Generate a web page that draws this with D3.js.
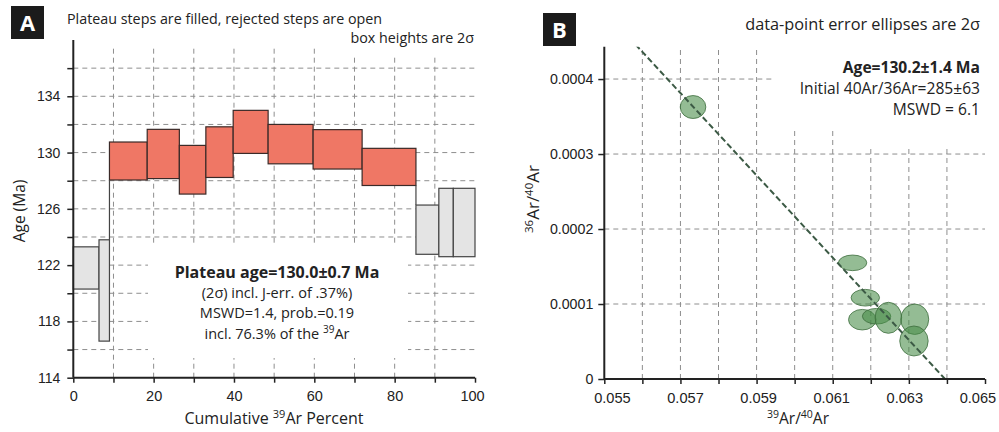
<!DOCTYPE html>
<html>
<head>
<meta charset="utf-8">
<script src="https://cdn.jsdelivr.net/npm/d3@7"></script>
<style>
  html, body { margin: 0; padding: 0; background: #fff; }
  svg { display: block; }
  .tick text { font-family: "Liberation Sans", Arial, sans-serif; fill: #222; }
  .lbl { font-family: "Open Sans", "Noto Sans", sans-serif; fill: #222; }
</style>
</head>
<body>
<svg id="chart" width="999" height="432"></svg>
<script>
// ---------- Panel A data: step-heating spectrum ----------
const stepStart = [0, 6.4, 9.0, 18.4, 26.4, 33.0, 39.8, 48.5, 59.7, 71.9, 85.3, 91.0, 94.6];
const stepEnd   = [6.4, 9.0, 18.4, 26.4, 33.0, 39.8, 48.5, 59.7, 71.9, 85.3, 91.0, 94.6, 100];
const stepAge   = [121.8, 120.2, 129.4, 129.9, 128.78, 130.03, 131.47, 130.6, 130.23, 128.98, 124.52, 125.03, 125.03];
const stepErr2s = [1.5, 3.6, 1.35, 1.75, 1.73, 1.8, 1.53, 1.4, 1.4, 1.32, 1.75, 2.43, 2.43];
const inPlateau = [false, false, true, true, true, true, true, true, true, true, false, false, false];
const ageTicks  = [114, 116, 118, 120, 122, 124, 126, 128, 130, 132, 134, 136];
const ageLabels = [114, 118, 122, 126, 130, 134];
const pctTicks  = [0, 10, 20, 30, 40, 50, 60, 70, 80, 90, 100];
const pctLabels = [0, 20, 40, 60, 80, 100];

// ---------- Panel B data: inverse isochron ----------
const ptX  = [0.057331, 0.061522, 0.061856, 0.061777, 0.062152, 0.062462, 0.063155, 0.063134];
const ptY  = [0.0003627, 0.0001549, 0.0001084, 0.0000791, 0.0000837, 0.0000816, 0.0000797, 0.0000507];
const ptSX = [0.000336, 0.000373, 0.000373, 0.000362, 0.000373, 0.000349, 0.000367, 0.000373];
const ptSY = [0.0000153, 0.0000104, 0.0000111, 0.0000137, 0.0000104, 0.0000207, 0.0000203, 0.0000200];
const isoXIntercept = 0.06395;     // 39Ar/40Ar intercept
const isoInitialRatio = 285;       // 40Ar/36Ar initial
const xTicksB = [0.055, 0.056, 0.057, 0.058, 0.059, 0.060, 0.061, 0.062, 0.063, 0.064, 0.065];
const xLabelsB = [0.055, 0.057, 0.059, 0.061, 0.063, 0.065];
const yTicksB = [0, 0.0001, 0.0002, 0.0003, 0.0004];

const svg = d3.select("#chart");
const gridColor = "#8e8e8e";
const axisColor = "#222";

function labelBox(x, y, letter) {
  svg.append("rect").attr("x", x).attr("y", y).attr("width", 33).attr("height", 33).attr("fill", "#1b1b1b");
  svg.append("text").attr("class", "lbl").attr("x", x + 16.5).attr("y", y + 25)
    .attr("text-anchor", "middle").style("font-size", "22px").style("font-weight", "700")
    .style("fill", "#fff").text(letter);
}

function styleAxis(g, fs) {
  g.select(".domain").attr("stroke", axisColor).attr("stroke-width", 2);
  g.selectAll(".tick line").attr("stroke", axisColor).attr("stroke-width", 1.5);
  g.selectAll(".tick text").style("font-size", fs + "px");
}

// ================= PANEL A =================
const xA = d3.scaleLinear().domain([0, 100]).range([73.3, 475]);
const yA = d3.scaleLinear().domain([114, 138]).range([377.7, 40]);

const gA = svg.append("g");
gA.selectAll(".hg").data(ageTicks.filter(d => d > 114)).join("line")
  .attr("x1", xA(0)).attr("x2", xA(100)).attr("y1", d => yA(d)).attr("y2", d => yA(d))
  .attr("stroke", gridColor).attr("stroke-dasharray", "5,4").attr("stroke-width", 1);
gA.selectAll(".vg").data(pctTicks.filter(d => d > 0 && d < 100)).join("line")
  .attr("x1", d => xA(d)).attr("x2", d => xA(d)).attr("y1", yA(114)).attr("y2", 45)
  .attr("stroke", gridColor).attr("stroke-dasharray", "5,4").attr("stroke-width", 1);
// white backgrounds behind annotation text
gA.append("rect").attr("x", 330).attr("y", 28).attr("width", 150).attr("height", 29).attr("fill", "#fff");
gA.append("rect").attr("x", 148).attr("y", 246).attr("width", 260).attr("height", 112).attr("fill", "#fff");

const steps = stepStart.map((s, i) => ({ s, e: stepEnd[i], lo: stepAge[i] - stepErr2s[i], hi: stepAge[i] + stepErr2s[i], p: inPlateau[i] }));
gA.selectAll(".step").data(steps).join("rect")
  .attr("x", d => xA(d.s)).attr("width", d => xA(d.e) - xA(d.s))
  .attr("y", d => yA(d.hi)).attr("height", d => yA(d.lo) - yA(d.hi))
  .attr("fill", d => d.p ? "#ef7765" : "#e4e4e4")
  .attr("stroke", d => d.p ? "#3a2a28" : "#444").attr("stroke-width", 1.2);
// connecting verticals between non-overlapping adjacent steps
for (let i = 1; i < steps.length; i++) {
  const a = steps[i - 1], b = steps[i];
  if (a.hi < b.lo || b.hi < a.lo) {
    const y1 = a.hi < b.lo ? a.hi : b.hi;
    const y2 = a.hi < b.lo ? b.lo : a.lo;
    gA.append("line").attr("x1", xA(b.s)).attr("x2", xA(b.s))
      .attr("y1", yA(y1)).attr("y2", yA(y2)).attr("stroke", "#444").attr("stroke-width", 1.2);
  }
}

const axA_y = gA.append("g").attr("transform", `translate(${xA(0)},0)`)
  .call(d3.axisLeft(yA).tickValues(ageTicks).tickSize(6).tickPadding(7)
    .tickFormat(d => ageLabels.includes(d) ? d : ""));
axA_y.select(".domain").attr("d", `M0,${yA(138)}V${yA(114)}`);
styleAxis(axA_y, 14);
const axA_x = gA.append("g").attr("transform", `translate(0,${yA(114)})`)
  .call(d3.axisBottom(xA).tickValues(pctTicks).tickSize(5).tickPadding(8)
    .tickFormat(d => pctLabels.includes(d) ? d : ""));
axA_x.select(".domain").attr("d", `M${xA(0)},0H${xA(100)}`);
styleAxis(axA_x, 14.5);
axA_x.selectAll(".tick text").attr("x", d => d === 100 ? -3 : 0);

labelBox(11, 6, "A");
gA.append("text").attr("class", "lbl").attr("x", 67).attr("y", 24).style("font-size", "14.3px")
  .text("Plateau steps are filled, rejected steps are open");
gA.append("text").attr("class", "lbl").attr("x", 474).attr("y", 43).attr("text-anchor", "end").style("font-size", "14.3px")
  .text("box heights are 2σ");
const pcx = 277;
gA.append("text").attr("class", "lbl").attr("x", pcx).attr("y", 278).attr("text-anchor", "middle")
  .style("font-size", "16px").style("font-weight", "700").text("Plateau age=130.0±0.7 Ma");
gA.append("text").attr("class", "lbl").attr("x", pcx).attr("y", 298).attr("text-anchor", "middle")
  .style("font-size", "14.5px").text("(2σ) incl. J-err. of .37%)");
gA.append("text").attr("class", "lbl").attr("x", pcx).attr("y", 318).attr("text-anchor", "middle")
  .style("font-size", "14.5px").text("MSWD=1.4, prob.=0.19");
const t4 = gA.append("text").attr("class", "lbl").attr("x", pcx).attr("y", 339).attr("text-anchor", "middle")
  .style("font-size", "14.5px");
t4.append("tspan").text("incl. 76.3% of the ");
t4.append("tspan").attr("dy", -6).style("font-size", "10px").text("39");
t4.append("tspan").attr("dy", 6).text("Ar");

const xt = gA.append("text").attr("class", "lbl").attr("x", 274).attr("y", 424).attr("text-anchor", "middle")
  .style("font-size", "16px");
xt.append("tspan").text("Cumulative ");
xt.append("tspan").attr("dy", -6).style("font-size", "11px").text("39");
xt.append("tspan").attr("dy", 6).text("Ar Percent");
gA.append("text").attr("class", "lbl").attr("transform", "translate(25,211) rotate(-90)")
  .attr("text-anchor", "middle").style("font-size", "15.5px").text("Age (Ma)");

// ================= PANEL B =================
const xB = d3.scaleLinear().domain([0.055, 0.065]).range([604.3, 985]);
const yB = d3.scaleLinear().domain([0, 0.000443]).range([379, 46.8]);
const gB = svg.append("g");

gB.selectAll(".hg").data(yTicksB.filter(d => d > 0)).join("line")
  .attr("x1", xB(0.055)).attr("x2", xB(0.065)).attr("y1", d => yB(d)).attr("y2", d => yB(d))
  .attr("stroke", gridColor).attr("stroke-dasharray", "5,4").attr("stroke-width", 1);
gB.selectAll(".vg").data(xTicksB.filter(d => d > 0.0555 && d < 0.0645)).join("line")
  .attr("x1", d => xB(d)).attr("x2", d => xB(d)).attr("y1", yB(0)).attr("y2", yB(0.000443))
  .attr("stroke", gridColor).attr("stroke-dasharray", "5,4").attr("stroke-width", 1);
gB.append("rect").attr("x", 773).attr("y", 40).attr("width", 220).attr("height", 88).attr("fill", "#fff");
gB.append("rect").attr("x", 852).attr("y", 127).attr("width", 140).attr("height", 18).attr("fill", "#fff");

svg.append("clipPath").attr("id", "clipB").append("rect")
  .attr("x", xB(0.055)).attr("y", yB(0.000443)).attr("width", xB(0.065) - xB(0.055)).attr("height", yB(0) - yB(0.000443));

const pts = ptX.map((x, i) => ({ x, y: ptY[i], sx: ptSX[i], sy: ptSY[i] }));
gB.append("g").selectAll("ellipse").data(pts).join("ellipse")
  .attr("cx", d => xB(d.x)).attr("cy", d => yB(d.y))
  .attr("rx", d => xB(d.x + d.sx) - xB(d.x)).attr("ry", d => yB(d.y) - yB(d.y + d.sy))
  .attr("fill", "rgb(70,140,70)").attr("fill-opacity", 0.58)
  .attr("stroke", "#3f6e3f").attr("stroke-opacity", 0.8).attr("stroke-width", 1);

const yInt = 1 / isoInitialRatio;
const lineFn = x => yInt * (1 - x / isoXIntercept);
const xStart = 0.0555;
gB.append("line").attr("clip-path", "url(#clipB)")
  .attr("x1", xB(xStart)).attr("y1", yB(lineFn(xStart)))
  .attr("x2", xB(isoXIntercept)).attr("y2", yB(0))
  .attr("stroke", "#3c5a45").attr("stroke-width", 2).attr("stroke-dasharray", "6,3");

const axB_y = gB.append("g").attr("transform", `translate(${xB(0.055)},0)`)
  .call(d3.axisLeft(yB).tickValues(yTicksB).tickSize(6).tickPadding(5)
    .tickFormat(d => d === 0 ? "0" : d3.format(".4f")(d)));
axB_y.select(".domain").attr("d", `M0,${yB(0.000443)}V${yB(0)}`);
styleAxis(axB_y, 14.2);
const axB_x = gB.append("g").attr("transform", `translate(0,${yB(0)})`)
  .call(d3.axisBottom(xB).tickValues(xTicksB).tickSize(5).tickPadding(8.5)
    .tickFormat(d => xLabelsB.some(v => Math.abs(v - d) < 1e-9) ? d3.format(".3f")(d) : ""));
axB_x.select(".domain").attr("d", `M${xB(0.055)},0H${xB(0.065)}`);
styleAxis(axB_x, 14.6);
const bMid = (xB(0.055) + xB(0.065)) / 2;
axB_x.selectAll(".tick text").attr("x", d => (bMid - xB(d)) * 0.04);

labelBox(543, 13, "B");
gB.append("text").attr("class", "lbl").attr("x", 980).attr("y", 30).attr("text-anchor", "end")
  .style("font-size", "16.3px").text("data-point error ellipses are 2σ");
gB.append("text").attr("class", "lbl").attr("x", 980).attr("y", 73).attr("text-anchor", "end")
  .style("font-size", "15.6px").style("font-weight", "700").text("Age=130.2±1.4 Ma");
gB.append("text").attr("class", "lbl").attr("x", 980).attr("y", 94.2).attr("text-anchor", "end")
  .style("font-size", "15.6px").text("Initial 40Ar/36Ar=285±63");
gB.append("text").attr("class", "lbl").attr("x", 980).attr("y", 115.4).attr("text-anchor", "end")
  .style("font-size", "15.6px").text("MSWD = 6.1");

const bx = gB.append("text").attr("class", "lbl").attr("x", 798).attr("y", 424).attr("text-anchor", "middle")
  .style("font-size", "15.5px");
bx.append("tspan").attr("dy", -6).style("font-size", "10.5px").text("39");
bx.append("tspan").attr("dy", 6).text("Ar/");
bx.append("tspan").attr("dy", -6).style("font-size", "10.5px").text("40");
bx.append("tspan").attr("dy", 6).text("Ar");
const by = gB.append("text").attr("class", "lbl").attr("transform", "translate(539,199) rotate(-90)")
  .attr("text-anchor", "middle").style("font-size", "17px");
by.append("tspan").attr("dy", -6).style("font-size", "11.5px").text("36");
by.append("tspan").attr("dy", 6).text("Ar/");
by.append("tspan").attr("dy", -6).style("font-size", "11.5px").text("40");
by.append("tspan").attr("dy", 6).text("Ar");
</script>
</body>
</html>
